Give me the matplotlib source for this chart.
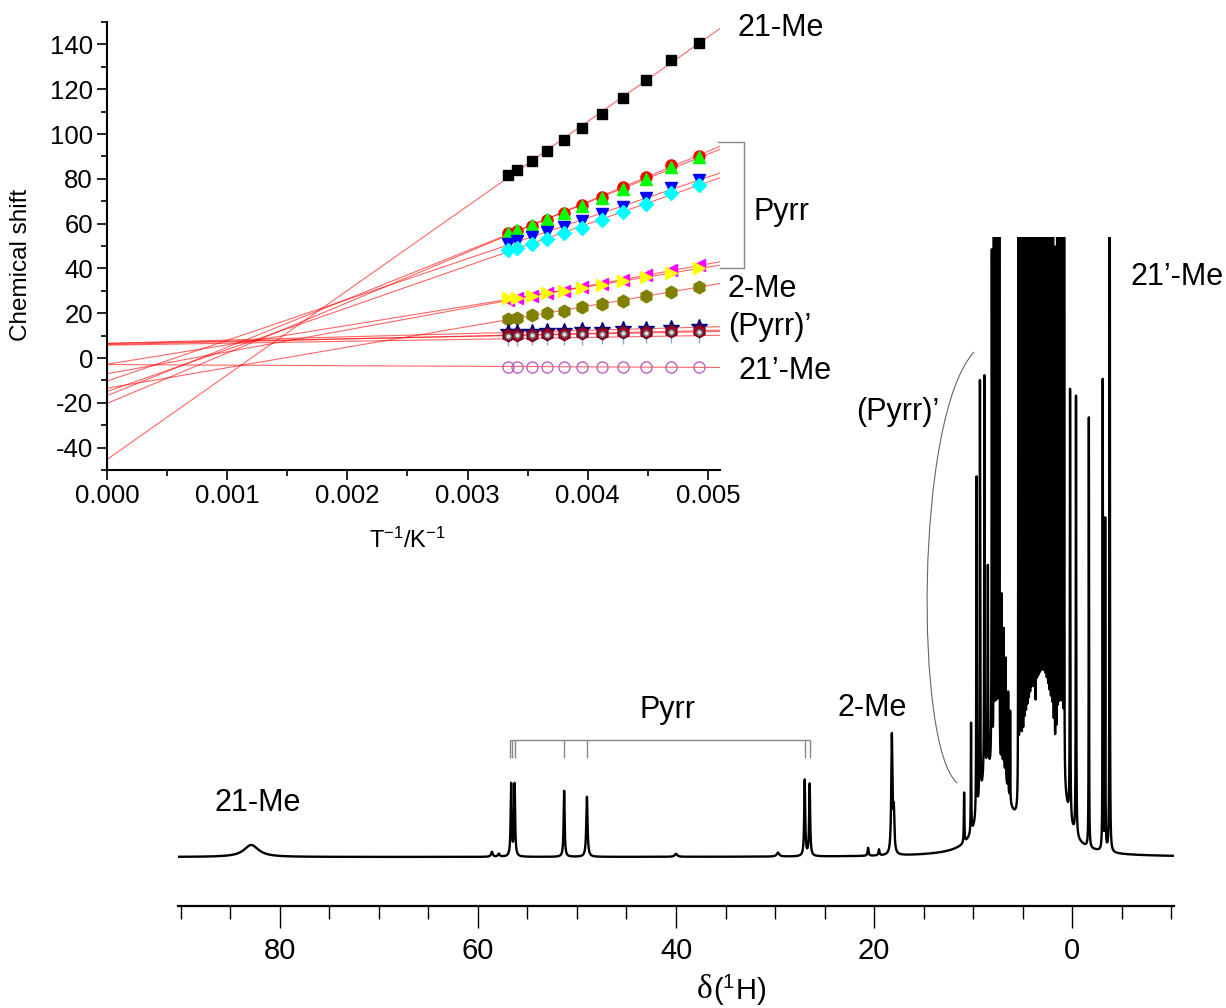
import numpy as np
import matplotlib
matplotlib.use("Agg")
import matplotlib.pyplot as plt
from matplotlib import font_manager
from matplotlib.path import Path
from matplotlib.patches import PathPatch
from matplotlib.ticker import MultipleLocator, FormatStrFormatter

installed = {f.name for f in font_manager.fontManager.ttflist}
SANS = "Liberation Sans" if "Liberation Sans" in installed else "DejaVu Sans"
SERIF = "Liberation Serif" if "Liberation Serif" in installed else "DejaVu Serif"

plt.rcParams["font.family"] = [SANS, "DejaVu Sans"]
plt.rcParams["axes.unicode_minus"] = False
plt.rcParams["mathtext.fontset"] = "custom"
plt.rcParams["mathtext.rm"] = SANS
plt.rcParams["mathtext.default"] = "regular"

# ---- Curie plot data (shift vs 1/T) ----
temps = np.array([300, 293, 283, 273, 263, 253, 243, 233, 223, 213, 203])
inv_t = 1.0 / temps

me21 = [81.9, 84.1, 88.1, 92.4, 97.2, 102.7, 108.9, 116.0, 124.3, 133.0, 140.8]
pyrr_red = [55.6, 56.9, 59.1, 61.8, 64.8, 68.1, 71.9, 76.2, 81.0, 86.2, 90.4]
pyrr_green = [56.0, 57.2, 59.3, 61.9, 64.7, 67.8, 71.4, 75.4, 80.0, 85.2, 89.6]
pyrr_blue = [51.1, 52.1, 54.1, 56.3, 58.5, 61.3, 64.3, 67.4, 71.4, 75.9, 79.6]
pyrr_cyan = [48.1, 49.3, 51.1, 53.3, 55.9, 58.2, 61.5, 65.2, 68.9, 73.6, 77.3]
me2_magenta = [26.0, 26.6, 27.6, 28.8, 30.1, 31.5, 33.1, 34.9, 36.9, 39.1, 41.6]
me2_yellow = [26.6, 27.0, 27.8, 28.9, 30.0, 31.2, 32.6, 34.3, 36.0, 38.1, 40.3]
me2_olive = [17.3, 17.8, 19.1, 20.0, 21.2, 22.7, 24.0, 25.6, 27.7, 29.6, 31.9]
pp_star = [11.4, 11.5, 11.7, 11.9, 12.1, 12.3, 12.6, 12.8, 13.1, 13.4, 13.7]
pp_hex = [10.2, 10.3, 10.4, 10.6, 10.8, 11.0, 11.2, 11.4, 11.6, 11.9, 12.2]
pp_dot = [10.0, 10.1, 10.2, 10.3, 10.5, 10.6, 10.8, 11.0, 11.2, 11.4, 11.7]
pp_tri = [8.6, 8.7, 8.8, 8.9, 9.0, 9.1, 9.3, 9.4, 9.6, 9.8, 10.0]
me21p = [-3.8, -3.8, -3.8, -3.9, -3.9, -3.9, -4.0, -4.0, -4.1, -4.1, -4.2]

# (values, marker, face, edge, size) -- drawing order bottom to top
curie_series = [
    (me21, "s", "black", "black", 6.5),
    (pyrr_red, "o", "red", "red", 8),
    (pyrr_green, "^", "#00FF00", "#00FF00", 9),
    (pyrr_blue, "v", "blue", "blue", 9),
    (pyrr_cyan, "D", "cyan", "cyan", 7),
    (me2_magenta, "<", "magenta", "magenta", 9),
    (me2_yellow, ">", "yellow", "yellow", 9),
    (me2_olive, "h", "#808000", "#808000", 9),
    (pp_tri, "1", "#8FA8D8", "#8FA8D8", 10),
    (pp_star, "*", "#3A1060", "#000080", 12),
    (pp_hex, "h", "#A00028", "#780020", 9),
    (pp_dot, "o", "#DDDDDD", "#666666", 4),
    (me21p, "o", "none", "#C060C0", 8),
]

# ---- 1H spectrum peak table: position (ppm), height (a.u.), FWHM (ppm) ----
# isolated signals
iso_ppm = [82.9, 58.6, 57.9, 56.65, 56.3, 51.3, 49.0, 40.0, 29.7, 27.0, 26.5,
           20.6, 19.5, 18.2, 18.0, 10.9, 10.2, 9.65, 9.3, 8.85, 8.5, 8.1,
           0.2, -0.4, -1.7, -3.1, -3.35, -3.8]
iso_height = [12, 5, 3, 72, 72, 66, 60, 3, 4, 76, 72,
              8, 6, 118, 40, 50, 110, 340, 420, 400, 200, 520,
              430, 440, 430, 470, 330, 900]
iso_width = [1.8, 0.2, 0.2, 0.12, 0.12, 0.12, 0.15, 0.3, 0.3, 0.12, 0.12,
             0.12, 0.12, 0.14, 0.14, 0.06, 0.05, 0.05, 0.05, 0.05, 0.05, 0.05,
             0.05, 0.05, 0.04, 0.04, 0.04, 0.04]
# crowded diamagnetic region, many overlapping sharp lines
dense_ppm = [7.9, 7.76, 7.62, 7.48, 7.35, 7.1, 6.9, 6.7, 6.45, 6.25,
             5.42, 5.28, 5.14, 5.0, 4.86, 4.72, 4.58, 4.44, 4.3, 4.16, 4.02,
             3.88, 3.75, 3.6, 3.46, 3.32, 3.18, 3.04, 2.9, 2.76, 2.62, 2.48,
             2.34, 2.2, 2.06, 1.92, 1.78, 1.64, 1.5, 1.36, 1.22, 1.08, 0.94,
             0.8]
dense_height = [800, 800, 800, 800, 800, 170, 140, 120, 100, 90,
                800, 800, 800, 650, 800, 800, 800, 800, 800, 800, 800,
                800, 480, 800, 800, 800, 800, 800, 800, 800, 800, 800,
                800, 800, 800, 800, 520, 400, 800, 800, 800, 800, 800,
                800]
DENSE_WIDTH = 0.03
# broad unresolved envelope under the diamagnetic lines
broad_ppm = [8.6, 7.0, 4.0, 2.8, 1.0]
broad_height = [70, 60, 50, 70, 50]
broad_width = [1.8, 1.5, 2.0, 2.0, 1.4]

pyrr_lines = [56.75, 56.6, 56.3, 51.3, 49.0, 27.0, 26.5]

W, H = 1226, 1008
fig = plt.figure(figsize=(W / 100, H / 100), dpi=100)


def fx(px):
    return px / W


def fy(py):
    return 1 - py / H


# ---- main spectrum ----
ax = fig.add_axes([fx(178), fy(906), (1174 - 178) / W, (906 - 237) / H])
ax.patch.set_visible(False)
ppm = np.linspace(90.3, -10.3, 60000)
spec = np.zeros_like(ppm)
peaks = (list(zip(iso_ppm, iso_height, iso_width))
         + [(c, h, DENSE_WIDTH) for c, h in zip(dense_ppm, dense_height)]
         + list(zip(broad_ppm, broad_height, broad_width)))
for c, h, w in peaks:
    g = w / 2
    spec += h * g ** 2 / ((ppm - c) ** 2 + g ** 2)
ax.plot(ppm, spec, color="black", lw=1.7)
ax.set_xlim(90.3, -10.3)
ax.set_ylim(-49, 620)
for s in ("left", "right", "top"):
    ax.spines[s].set_visible(False)
ax.spines["bottom"].set_linewidth(1.6)
ax.set_yticks([])
ax.xaxis.set_major_locator(MultipleLocator(20))
ax.xaxis.set_minor_locator(MultipleLocator(5))
ax.tick_params(axis="x", which="major", direction="out", length=16, width=1.0,
               pad=6, labelsize=21)
ax.tick_params(axis="x", which="minor", direction="out", length=9, width=1.0)

# Pyrr assignment bracket
ax.vlines(pyrr_lines, 99, 117, color="#888888", lw=1.0)
ax.hlines(117, max(pyrr_lines), min(pyrr_lines), color="#888888", lw=1.0)

# (Pyrr)' brace
verts = [(9.9, 505), (15.9, 440), (15.9, 110), (11.6, 74)]
brace = Path(verts, [Path.MOVETO, Path.CURVE4, Path.CURVE4, Path.CURVE4])
ax.add_patch(PathPatch(brace, fill=False, edgecolor="#666666", lw=0.8, clip_on=False))

# ---- Curie plot inset ----
axin = fig.add_axes([fx(107), fy(470), (720 - 107) / W, (470 - 22) / H])
axin.patch.set_visible(False)
xfit = np.array([0.0, 0.0051])
for vals, *_ in curie_series:
    k, b = np.polyfit(inv_t, vals, 1)
    axin.plot(xfit, k * xfit + b, color="red", lw=0.8, alpha=0.6, zorder=2)
for vals, mk, fc, ec, ms in curie_series:
    axin.plot(inv_t, vals, ls="none", marker=mk, mfc=fc, mec=ec, ms=ms,
              mew=1.0, zorder=3)
axin.set_xlim(0, 0.0051)
axin.set_ylim(-50, 150)
axin.spines["top"].set_visible(False)
axin.spines["right"].set_visible(False)
axin.spines["left"].set_linewidth(1.5)
axin.spines["bottom"].set_linewidth(1.5)
axin.xaxis.set_major_locator(MultipleLocator(0.001))
axin.xaxis.set_minor_locator(MultipleLocator(0.0005))
axin.xaxis.set_major_formatter(FormatStrFormatter("%.3f"))
axin.yaxis.set_major_locator(MultipleLocator(20))
axin.yaxis.set_minor_locator(MultipleLocator(10))
axin.tick_params(which="major", direction="out", length=7, width=1.2, labelsize=18.5, pad=3)
axin.tick_params(which="minor", direction="out", length=4, width=1.2)
axin.set_ylabel("Chemical shift", fontsize=17.5)
axin.yaxis.set_label_coords(-0.122, 0.458)
axin.set_xlabel("T$^{-1}$/K$^{-1}$", fontsize=17)
axin.xaxis.set_label_coords(0.49, -0.128)

# Pyrr bracket in the inset
axin.plot([0.00508, 0.0053, 0.0053, 0.00510], [96.4, 96.4, 40.4, 40.4],
          color="#888888", lw=1.0, clip_on=False)

# ---- labels ----
lab = dict(fontsize=22, ha="center", va="center")
fig.text(fx(781), fy(28), "21-Me", **lab)
fig.text(fx(782), fy(212), "Pyrr", **lab)
fig.text(fx(762), fy(289), "2-Me", **lab)
fig.text(fx(770), fy(327), "(Pyrr)\u2019", **lab)
fig.text(fx(785), fy(371), "21\u2019-Me", **lab)

fig.text(fx(258), fy(803), "21-Me", **lab)
fig.text(fx(667), fy(710), "Pyrr", **lab)
fig.text(fx(872), fy(708), "2-Me", **lab)
fig.text(fx(898), fy(412), "(Pyrr)\u2019", **lab)
fig.text(fx(1177), fy(277), "21\u2019-Me", **lab)

fig.text(fx(713), fy(990), "\u03b4", fontsize=24, family=SERIF, ha="right", va="center")
fig.text(fx(713), fy(990), "($^1$H)", fontsize=21, ha="left", va="center")

fig.savefig("out.png", dpi=100)
